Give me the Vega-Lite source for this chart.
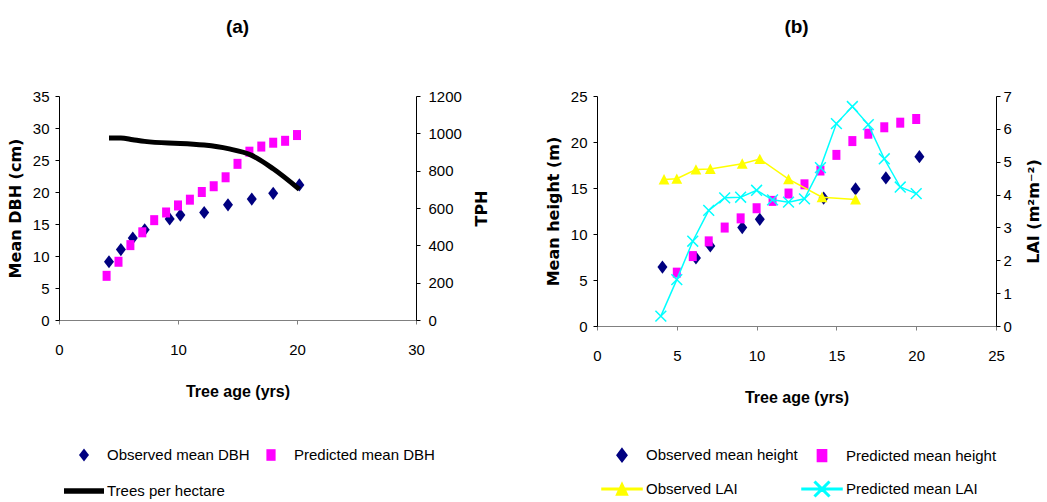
{
  "$schema": "https://vega.github.io/schema/vega-lite/v6.json",
  "padding": {"left": 7, "top": 18, "right": 0, "bottom": 0},
  "bounds": "flush",
  "spacing": 181,
  "background": "white",
  "config": {
    "view": {"stroke": null},
    "font": "Liberation Sans",
    "axis": {
      "grid": false,
      "labelFlush": false,
      "labelFont": "Liberation Sans",
      "labelFontSize": 15,
      "labelColor": "#000000",
      "tickColor": "#000000",
      "domainColor": "#000000",
      "tickSize": 4,
      "titleColor": "#000000",
      "titleFont": "DejaVu Sans",
      "titleFontSize": 16,
      "titleFontWeight": "bold"
    },
    "legend": {
      "labelFont": "Liberation Sans",
      "labelFontSize": 15,
      "labelLimit": 400,
      "labelColor": "#000000"
    },
    "title": {
      "font": "Liberation Sans",
      "fontSize": 19,
      "fontWeight": "bold",
      "color": "#000000",
      "offset": 52
    }
  },
  "resolve": {"scale": {"color": "independent", "shape": "independent"}},
  "datasets": {
    "dbh": [
      {"series": "Observed mean DBH", "age": 4.2, "value": 9.1},
      {"series": "Observed mean DBH", "age": 5.2, "value": 11.0},
      {"series": "Observed mean DBH", "age": 6.2, "value": 12.8},
      {"series": "Observed mean DBH", "age": 7.2, "value": 14.1},
      {"series": "Observed mean DBH", "age": 9.3, "value": 15.8},
      {"series": "Observed mean DBH", "age": 10.2, "value": 16.4},
      {"series": "Observed mean DBH", "age": 12.2, "value": 16.8},
      {"series": "Observed mean DBH", "age": 14.2, "value": 18.0},
      {"series": "Observed mean DBH", "age": 16.2, "value": 18.9},
      {"series": "Observed mean DBH", "age": 18.0, "value": 19.8},
      {"series": "Observed mean DBH", "age": 20.2, "value": 21.1},
      {"series": "Predicted mean DBH", "age": 4, "value": 6.9},
      {"series": "Predicted mean DBH", "age": 5, "value": 9.1},
      {"series": "Predicted mean DBH", "age": 6, "value": 11.7},
      {"series": "Predicted mean DBH", "age": 7, "value": 13.7},
      {"series": "Predicted mean DBH", "age": 8, "value": 15.6},
      {"series": "Predicted mean DBH", "age": 9, "value": 16.8},
      {"series": "Predicted mean DBH", "age": 10, "value": 17.9},
      {"series": "Predicted mean DBH", "age": 11, "value": 18.8},
      {"series": "Predicted mean DBH", "age": 12, "value": 20.0},
      {"series": "Predicted mean DBH", "age": 13, "value": 20.9},
      {"series": "Predicted mean DBH", "age": 14, "value": 22.3},
      {"series": "Predicted mean DBH", "age": 15, "value": 24.4},
      {"series": "Predicted mean DBH", "age": 16, "value": 26.3},
      {"series": "Predicted mean DBH", "age": 17, "value": 27.1},
      {"series": "Predicted mean DBH", "age": 18, "value": 27.7},
      {"series": "Predicted mean DBH", "age": 19, "value": 28.0},
      {"series": "Predicted mean DBH", "age": 20, "value": 28.9},
      {"series": "Trees per hectare", "age": 4.2, "value": 975},
      {"series": "Trees per hectare", "age": 5.2, "value": 975},
      {"series": "Trees per hectare", "age": 6.2, "value": 966},
      {"series": "Trees per hectare", "age": 7.2, "value": 957},
      {"series": "Trees per hectare", "age": 9.2, "value": 948},
      {"series": "Trees per hectare", "age": 10.2, "value": 946},
      {"series": "Trees per hectare", "age": 12.2, "value": 937},
      {"series": "Trees per hectare", "age": 14.2, "value": 918},
      {"series": "Trees per hectare", "age": 16.2, "value": 882},
      {"series": "Trees per hectare", "age": 18.0, "value": 810},
      {"series": "Trees per hectare", "age": 20.2, "value": 700}
    ],
    "height": [
      {"series": "Observed mean height", "age": 4.1, "value": 6.4},
      {"series": "Observed mean height", "age": 6.2, "value": 7.4},
      {"series": "Observed mean height", "age": 7.1, "value": 8.7},
      {"series": "Observed mean height", "age": 9.1, "value": 10.7},
      {"series": "Observed mean height", "age": 10.2, "value": 11.6},
      {"series": "Observed mean height", "age": 14.2, "value": 13.9},
      {"series": "Observed mean height", "age": 16.2, "value": 14.9},
      {"series": "Observed mean height", "age": 18.1, "value": 16.1},
      {"series": "Observed mean height", "age": 20.2, "value": 18.4},
      {"series": "Predicted mean height", "age": 5, "value": 5.8},
      {"series": "Predicted mean height", "age": 6, "value": 7.6},
      {"series": "Predicted mean height", "age": 7, "value": 9.2},
      {"series": "Predicted mean height", "age": 8, "value": 10.7},
      {"series": "Predicted mean height", "age": 9, "value": 11.7},
      {"series": "Predicted mean height", "age": 10, "value": 12.8},
      {"series": "Predicted mean height", "age": 11, "value": 13.6},
      {"series": "Predicted mean height", "age": 12, "value": 14.4},
      {"series": "Predicted mean height", "age": 13, "value": 15.4},
      {"series": "Predicted mean height", "age": 14, "value": 16.9},
      {"series": "Predicted mean height", "age": 15, "value": 18.6},
      {"series": "Predicted mean height", "age": 16, "value": 20.1},
      {"series": "Predicted mean height", "age": 17, "value": 20.9},
      {"series": "Predicted mean height", "age": 18, "value": 21.6},
      {"series": "Predicted mean height", "age": 19, "value": 22.1},
      {"series": "Predicted mean height", "age": 20, "value": 22.5},
      {"series": "Observed LAI", "age": 4.2, "value": 4.46},
      {"series": "Observed LAI", "age": 5.0, "value": 4.48},
      {"series": "Observed LAI", "age": 6.2, "value": 4.76},
      {"series": "Observed LAI", "age": 7.1, "value": 4.78},
      {"series": "Observed LAI", "age": 9.1, "value": 4.94},
      {"series": "Observed LAI", "age": 10.2, "value": 5.08},
      {"series": "Observed LAI", "age": 12.0, "value": 4.47},
      {"series": "Observed LAI", "age": 14.1, "value": 3.92},
      {"series": "Observed LAI", "age": 16.2, "value": 3.85},
      {"series": "Predicted mean LAI", "age": 4, "value": 0.30},
      {"series": "Predicted mean LAI", "age": 5, "value": 1.41},
      {"series": "Predicted mean LAI", "age": 6, "value": 2.58},
      {"series": "Predicted mean LAI", "age": 7, "value": 3.52},
      {"series": "Predicted mean LAI", "age": 8, "value": 3.90},
      {"series": "Predicted mean LAI", "age": 9, "value": 3.92},
      {"series": "Predicted mean LAI", "age": 10, "value": 4.13},
      {"series": "Predicted mean LAI", "age": 11, "value": 3.84},
      {"series": "Predicted mean LAI", "age": 12, "value": 3.77},
      {"series": "Predicted mean LAI", "age": 13, "value": 3.87},
      {"series": "Predicted mean LAI", "age": 14, "value": 4.82},
      {"series": "Predicted mean LAI", "age": 15, "value": 6.16},
      {"series": "Predicted mean LAI", "age": 16, "value": 6.68},
      {"series": "Predicted mean LAI", "age": 17, "value": 6.13},
      {"series": "Predicted mean LAI", "age": 18, "value": 5.09},
      {"series": "Predicted mean LAI", "age": 19, "value": 4.23},
      {"series": "Predicted mean LAI", "age": 20, "value": 4.03}
    ]
  },
  "hconcat": [
    {
      "width": 357,
      "height": 224,
      "title": {"text": "(a)"},
      "data": {"name": "dbh"},
      "encoding": {
        "x": {
          "field": "age", "type": "quantitative",
          "scale": {"domain": [0, 30], "nice": false, "zero": false},
          "axis": {"values": [0, 10, 20, 30], "title": "Tree age (yrs)", "labelPadding": 18, "titlePadding": 26, "domainColor": "#808080", "tickColor": "#808080", "titleFont": "Liberation Sans", "titleFontSize": 16}
        }
      },
      "layer": [
        {
          "encoding": {
            "y": {
              "field": "value", "type": "quantitative",
              "scale": {"domain": [0, 35], "nice": false},
              "axis": {"values": [0, 5, 10, 15, 20, 25, 30, 35], "title": "Mean DBH (cm)", "labelPadding": 6, "titlePadding": 9}
            }
          },
          "layer": [
            {
              "transform": [{"filter": "datum.series === 'Observed mean DBH'"}],
              "mark": {"type": "point", "filled": true, "size": 1600, "opacity": 1},
              "encoding": {
                "color": {
                  "field": "series", "type": "nominal",
                  "scale": {"domain": ["Observed mean DBH", "Predicted mean DBH", "Trees per hectare"], "range": ["#000080", "#FF00FF", "#000000"]},
                  "legend": {"orient": "none", "direction": "horizontal", "legendX": 4, "legendY": 338, "columns": 2, "title": null, "symbolSize": 1600, "labelOffset": 2, "rowPadding": 7, "columnPadding": -2, "padding": 0, "symbolOpacity": 1}
                },
                "shape": {
                  "field": "series", "type": "nominal",
                  "scale": {"domain": ["Observed mean DBH", "Predicted mean DBH", "Trees per hectare"], "range": ["M0,-0.33L0.25,0L0,0.33L-0.25,0Z", "M-0.23,-0.29H0.23V0.29H-0.23Z", "M-1,-0.14H1V0.14H-1Z"]},
                  "legend": {"orient": "none", "direction": "horizontal", "legendX": 4, "legendY": 338, "columns": 2, "title": null, "symbolSize": 1600, "labelOffset": 2, "rowPadding": 7, "columnPadding": -2, "padding": 0, "symbolOpacity": 1}
                }
              }
            },
            {
              "transform": [{"filter": "datum.series === 'Predicted mean DBH'"}],
              "mark": {"type": "point", "filled": true, "size": 1600, "opacity": 1, "shape": "M-0.2,-0.25H0.2V0.25H-0.2Z"},
              "encoding": {
                "color": {"field": "series", "type": "nominal"}
              }
            }
          ]
        },
        {
          "transform": [{"filter": "datum.series === 'Trees per hectare'"}],
          "mark": {"type": "line", "color": "#000000", "strokeWidth": 5, "interpolate": "monotone"},
          "encoding": {
            "y": {
              "field": "value", "type": "quantitative",
              "scale": {"domain": [0, 1200], "nice": false},
              "axis": {"orient": "right", "values": [0, 200, 400, 600, 800, 1000, 1200], "format": "d", "title": "TPH", "labelPadding": 8, "titlePadding": 12, "titleAngle": 270, "titleBaseline": "top"}
            }
          }
        }
      ],
      "resolve": {"scale": {"y": "independent"}}
    },
    {
      "width": 399,
      "height": 230,
      "title": {"text": "(b)"},
      "data": {"name": "height"},
      "encoding": {
        "x": {
          "field": "age", "type": "quantitative",
          "scale": {"domain": [0, 25], "nice": false, "zero": false},
          "axis": {"values": [0, 5, 10, 15, 20, 25], "title": "Tree age (yrs)", "labelPadding": 18, "titlePadding": 26, "domainColor": "#808080", "tickColor": "#808080", "titleFont": "Liberation Sans", "titleFontSize": 16}
        }
      },
      "layer": [
        {
          "encoding": {
            "y": {
              "field": "value", "type": "quantitative",
              "scale": {"domain": [0, 25], "nice": false},
              "axis": {"values": [0, 5, 10, 15, 20, 25], "title": "Mean height (m)", "labelPadding": 6, "titlePadding": 9}
            }
          },
          "layer": [
            {
              "transform": [{"filter": "datum.series === 'Observed mean height'"}],
              "mark": {"type": "point", "filled": true, "size": 1600, "opacity": 1},
              "encoding": {
                "color": {
                  "field": "series", "type": "nominal",
                  "scale": {"domain": ["Observed mean height", "Predicted mean height", "Observed LAI", "Predicted mean LAI"], "range": ["#000080", "#FF00FF", "#FFFF00", "#00FFFF"]},
                  "legend": {"orient": "none", "direction": "horizontal", "legendX": 4, "legendY": 338, "columns": 2, "title": null, "symbolSize": 1600, "labelOffset": 3, "rowPadding": 3, "columnPadding": 1, "padding": 0, "symbolOpacity": 1}
                },
                "shape": {
                  "field": "series", "type": "nominal",
                  "scale": {"domain": ["Observed mean height", "Predicted mean height", "Observed LAI", "Predicted mean LAI"], "range": ["M0,-0.33L0.25,0L0,0.33L-0.25,0Z", "M-0.23,-0.29H0.23V0.29H-0.23Z", "M-1,-0.035H1V0.035H-1ZM0,-0.3L0.28,0.3H-0.28Z", "M-1,-0.035H1V0.035H-1ZM-0.322,-0.378L0.378,0.322L0.322,0.378L-0.378,-0.322ZM-0.322,0.378L-0.378,0.322L0.322,-0.378L0.378,-0.322Z"]},
                  "legend": {"orient": "none", "direction": "horizontal", "legendX": 4, "legendY": 338, "columns": 2, "title": null, "symbolSize": 1600, "labelOffset": 3, "rowPadding": 3, "columnPadding": 1, "padding": 0, "symbolOpacity": 1}
                }
              }
            },
            {
              "transform": [{"filter": "datum.series === 'Predicted mean height'"}],
              "mark": {"type": "point", "filled": true, "size": 1600, "opacity": 1, "shape": "M-0.2,-0.25H0.2V0.25H-0.2Z"},
              "encoding": {
                "color": {"field": "series", "type": "nominal"}
              }
            }
          ]
        },
        {
          "encoding": {
            "y": {
              "field": "value", "type": "quantitative",
              "scale": {"domain": [0, 7], "nice": false},
              "axis": {"orient": "right", "values": [0, 1, 2, 3, 4, 5, 6, 7], "title": "LAI (m²m⁻²)", "labelPadding": 3, "titlePadding": 14, "titleAngle": 270, "titleBaseline": "top"}
            }
          },
          "layer": [
            {
              "transform": [{"filter": "datum.series === 'Observed LAI'"}],
              "mark": {"type": "line", "color": "#FFFF00", "strokeWidth": 1.5},
              "encoding": {}
            },
            {
              "transform": [{"filter": "datum.series === 'Observed LAI'"}],
              "mark": {"type": "point", "filled": true, "size": 1600, "opacity": 1, "shape": "M0,-0.27L0.27,0.25H-0.27Z"},
              "encoding": {
                "color": {"field": "series", "type": "nominal"}
              }
            },
            {
              "transform": [{"filter": "datum.series === 'Predicted mean LAI'"}],
              "mark": {"type": "line", "color": "#00FFFF", "strokeWidth": 1.5},
              "encoding": {}
            },
            {
              "transform": [{"filter": "datum.series === 'Predicted mean LAI'"}],
              "mark": {"type": "point", "filled": false, "size": 1600, "opacity": 1, "strokeWidth": 1.5, "shape": "M-0.27,-0.27L0.27,0.27M-0.27,0.27L0.27,-0.27"},
              "encoding": {
                "color": {"field": "series", "type": "nominal"}
              }
            }
          ]
        }
      ],
      "resolve": {"scale": {"y": "independent"}}
    }
  ]
}
